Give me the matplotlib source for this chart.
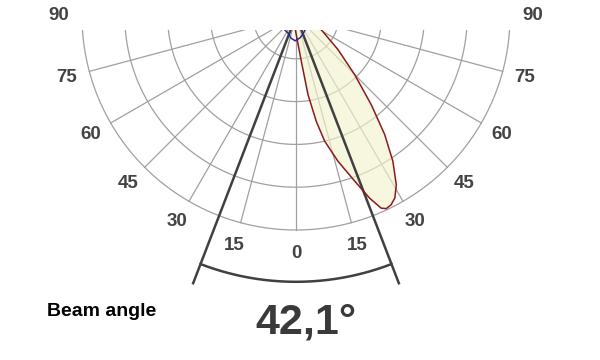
import numpy as np
import matplotlib
matplotlib.use("Agg")
import matplotlib.pyplot as plt

plt.rcParams['font.family'] = ['Liberation Sans', 'DejaVu Sans']

# Datos: curvas polares (angulo en grados, intensidad en anillos de la rejilla)
red_angle = [-90, -20, -2.9, 6.7, 8.7, 10.9, 12.9, 16.1, 19.6, 22.0, 23.9, 25.1,
             26.7, 28.5, 30.7, 33.7, 36.8, 40.3, 45, 51.3, 61.6, 75, 90]
red_value = [0, 0.14, 0.32, 1.07, 1.86, 2.51, 3.00, 3.53, 4.10, 4.59, 4.91, 4.97,
             4.94, 4.84, 4.59, 4.08, 3.46, 2.72, 1.94, 1.26, 0.67, 0.35, 0]

blue_angle = [-90, -60, -38, -25, -12.8, -2, 10.3, 21.3, 32.7, 60, 90]
blue_value = [0, 0.28, 0.42, 0.44, 0.53, 0.58, 0.52, 0.45, 0.39, 0.26, 0]

beam_angle = 42.1
ring_values = [1, 2, 3, 4, 5]
grid_angles = [-90, -75, -60, -45, -30, -15, 0, 15, 30, 45, 60, 75, 90]


def polar_xy(angle_deg, r):
    a = np.radians(np.asarray(angle_deg, dtype=float))
    r = np.asarray(r, dtype=float)
    return r * np.sin(a), -r * np.cos(a)


fig = plt.figure(figsize=(6, 3.6), dpi=100)
px = 42.8   # pixeles por anillo
cx, cy = 296, 16   # centro del diagrama (pixeles)
ax = fig.add_axes([0, 0, 1, 330 / 360])
ax.set_xlim(-cx / px, (600 - cx) / px)
ax.set_ylim(-(360 - cy) / px, -(30 - cy) / px)
ax.axis('off')

grid_color = '#a0a0a0'
t = np.linspace(-90, 90, 181)
for rv in ring_values:
    x, y = polar_xy(t, rv)
    ax.plot(x, y, color=grid_color, lw=0.9, zorder=1)
for g in grid_angles:
    x, y = polar_xy([g, g], [0, ring_values[-1]])
    ax.plot(x, y, color=grid_color, lw=0.9, zorder=1)

# etiquetas de angulo
for g in grid_angles:
    x, y = polar_xy(g, 5.54)
    ax.text(x, y, str(abs(g)), ha='center', va='center', fontsize=13.5,
            fontweight='bold', color='#444444', clip_on=False)

# curva roja (lobulo)
x, y = polar_xy(red_angle, red_value)
ax.fill(x, y, color='#f3f3cf', alpha=0.65, zorder=2, lw=0)
ax.plot(x, y, color='#8b1a1a', lw=1.1, zorder=4)

# curva azul
x, y = polar_xy(blue_angle, blue_value)
ax.plot(x, y, color='#2a2a8c', lw=1.1, zorder=4)

# angulo de haz
half = beam_angle / 2
for s in (-1, 1):
    x, y = polar_xy([s * half, s * half], [0, 6.69])
    ax.plot(x, y, color='#404040', lw=1.8, zorder=3)
ta = np.linspace(-half, half, 100)
x, y = polar_xy(ta, 6.21)
ax.plot(x, y, color='#404040', lw=1.8, zorder=3)

fig.text(47 / 600, 1 - 316 / 360, 'Beam angle', fontsize=14, fontweight='bold',
         color='black', va='baseline', ha='left')
fig.text(306 / 600, 1 - 333 / 360, f'{beam_angle}'.replace('.', ',') + '°', fontsize=31,
         fontweight='bold', color='#3a3a3a', va='baseline', ha='center')

fig.savefig('out.png', dpi=100)
